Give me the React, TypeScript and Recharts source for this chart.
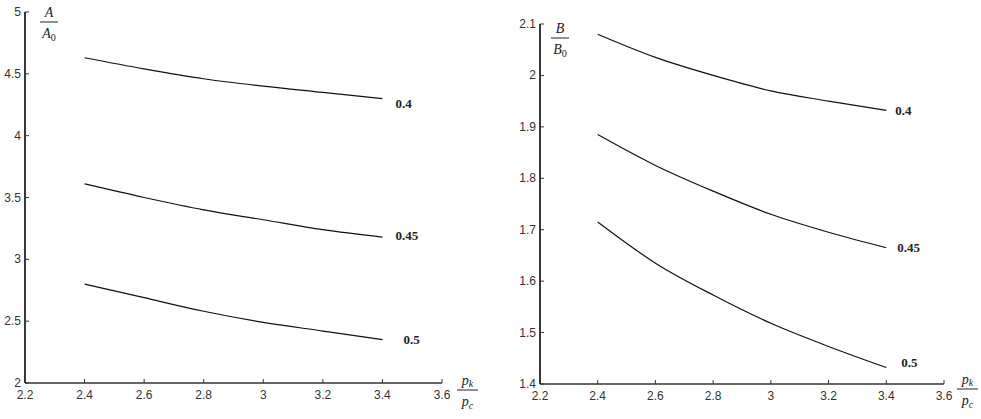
import { LineChart, Line, XAxis, YAxis } from 'recharts';

// x = pk / pc
const xs = [2.4, 2.6, 2.8, 3.0, 3.2, 3.4];
const xTicks = [2.2, 2.4, 2.6, 2.8, 3, 3.2, 3.4, 3.6];

// left panel: A / A0
const aTicks = [2, 2.5, 3, 3.5, 4, 4.5, 5];
const a040 = [4.63, 4.54, 4.46, 4.40, 4.35, 4.30];
const a045 = [3.61, 3.50, 3.40, 3.32, 3.24, 3.18];
const a050 = [2.80, 2.69, 2.58, 2.49, 2.42, 2.35];

// right panel: B / B0
const bTicks = [1.4, 1.5, 1.6, 1.7, 1.8, 1.9, 2, 2.1];
const b040 = [2.08, 2.035, 2.0, 1.97, 1.95, 1.932];
const b045 = [1.885, 1.825, 1.775, 1.73, 1.695, 1.665];
const b050 = [1.715, 1.635, 1.573, 1.518, 1.473, 1.432];

const seriesNames = ['0.4', '0.45', '0.5'];

const INK = '#111';
const TICK_FONT = 'Liberation Sans, Arial, sans-serif';
const SERIF = 'Liberation Serif, Times New Roman, serif';

function rows(a: number[], b: number[], c: number[]) {
  return xs.map((x, i) => ({ x, s0: a[i], s1: b[i], s2: c[i] }));
}

function XTick(props: any) {
  const { x, y, payload } = props;
  return (
    <g>
      <line x1={x} x2={x} y1={y} y2={y - 4} stroke="#333" strokeWidth={1} />
      <text x={x} y={y + 16} textAnchor="middle" fontSize={12} fontFamily={TICK_FONT} fill="#333">
        {String(payload.value)}
      </text>
    </g>
  );
}

function YTick(props: any) {
  const { x, y, payload } = props;
  return (
    <g>
      <line x1={x} x2={x + 4} y1={y} y2={y} stroke="#333" strokeWidth={1} />
      <text x={x - 4} y={y + 4} textAnchor="end" fontSize={12} fontFamily={TICK_FONT} fill="#333">
        {String(payload.value)}
      </text>
    </g>
  );
}

// label printed right after the last point of each curve
function endLabel(name: string, dx: number, dy: number) {
  return (p: any) => {
    if (p.index !== xs.length - 1) return <g key={p.index} />;
    return (
      <text key={p.index} x={p.x + dx} y={p.y + dy} fontSize={13} fontWeight={600}
            fontFamily={SERIF} fill="#222">
        {name}
      </text>
    );
  };
}

function Panel(props: {
  data: any[]; ticks: number[]; domain: [number, number];
  width: number; yWidth: number; right: number; top: number; bottom: number;
  offsets: [number, number][];
}) {
  const { data, ticks, domain, width, yWidth, right, top, bottom, offsets } = props;
  return (
    <LineChart width={width} height={419} data={data} margin={{ top, right, left: 0, bottom: 0 }}>
      <XAxis type="number" dataKey="x" domain={[2.2, 3.6]} ticks={xTicks} height={bottom}
             tickSize={0} tickMargin={0} tickLine={false} tick={<XTick />}
             axisLine={{ stroke: '#333', strokeWidth: 1.5 }} allowDataOverflow />
      <YAxis type="number" domain={domain} ticks={ticks} width={yWidth}
             tickSize={0} tickMargin={0} tickLine={false} tick={<YTick />}
             axisLine={{ stroke: '#222', strokeWidth: 1.8 }} allowDataOverflow />
      {['s0', 's1', 's2'].map((k, i) => (
        <Line key={k} type="monotone" dataKey={k} stroke={INK} strokeWidth={1.2} dot={false}
              isAnimationActive={false}
              label={endLabel(seriesNames[i], offsets[i][0], offsets[i][1])} />
      ))}
    </LineChart>
  );
}

// italic fraction title, e.g. A over A0 or pk over pc
function Frac(props: { x: number; y: number; top: string; bottom: string; topSub?: string; sub: string; w: number; italicSub?: boolean }) {
  const { x, y, top, bottom, topSub, sub, w, italicSub } = props;
  const subStyle = italicSub ? 'italic' : 'normal';
  return (
    <g fontFamily={SERIF} fontStyle="italic" fontSize={14} fill="#222">
      <text x={x + w / 2} y={y} textAnchor="middle">
        {top}
        {topSub ? <tspan fontSize={10} dy={2} fontStyle={subStyle}>{topSub}</tspan> : null}
      </text>
      <line x1={x} x2={x + w} y1={y + 5} y2={y + 5} stroke="#222" strokeWidth={1} />
      <text x={x + w / 2} y={y + 21} textAnchor="middle">
        {bottom}
        <tspan fontSize={10} dy={3} fontStyle={subStyle}>{sub}</tspan>
      </text>
    </g>
  );
}

export default function App() {
  return (
    <div style={{ position: 'absolute', left: 0, top: 0, width: 981, height: 419, background: '#fff' }}>
      <div style={{ position: 'absolute', left: 0, top: 0 }}>
        <Panel data={rows(a040, a045, a050)} ticks={aTicks} domain={[2, 5]}
               width={490} yWidth={25} right={48} top={12} bottom={36}
               offsets={[[13, 9], [13, 3], [21, 4]]} />
      </div>
      <div style={{ position: 'absolute', left: 490, top: 0 }}>
        <Panel data={rows(b040, b045, b050)} ticks={bTicks} domain={[1.4, 2.1]}
               width={491} yWidth={50} right={37} top={24} bottom={35}
               offsets={[[9, 5], [11, 4], [15, -1]]} />
      </div>
      <svg width={981} height={419} style={{ position: 'absolute', left: 0, top: 0, pointerEvents: 'none' }}>
        <Frac x={40} y={17} top="A" bottom="A" sub="0" w={18} />
        <Frac x={551} y={33} top="B" bottom="B" sub="0" w={18} />
        <Frac x={457} y={385} top="p" topSub="k" bottom="p" sub="c" w={21} italicSub />
        <Frac x={957} y={384} top="p" topSub="k" bottom="p" sub="c" w={21} italicSub />
      </svg>
    </div>
  );
}
